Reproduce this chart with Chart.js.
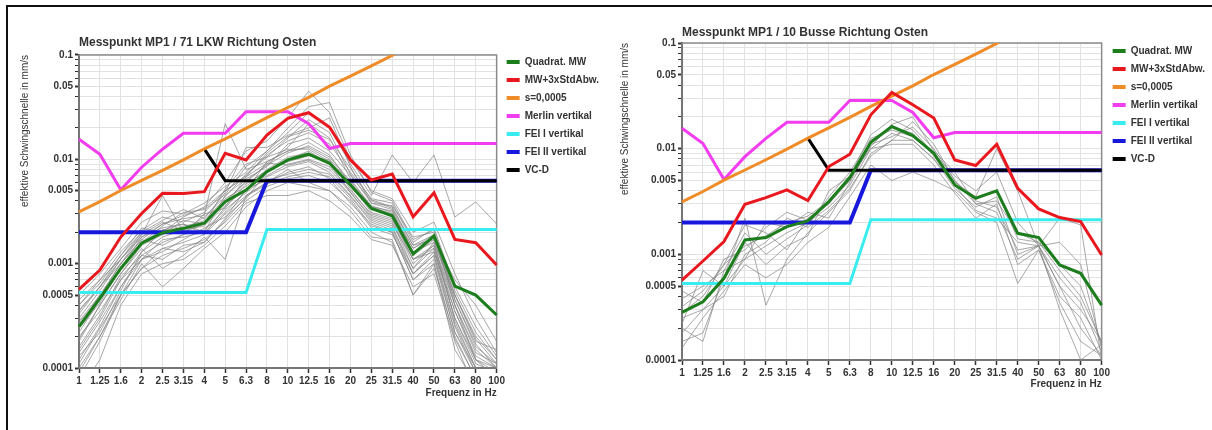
<!DOCTYPE html>
<html>
<head>
<meta charset="utf-8">
<script src="https://cdn.jsdelivr.net/npm/chart.js@4.4.1/dist/chart.umd.min.js"></script>
<style>
  html, body { margin: 0; padding: 0; background: #fff; overflow: hidden; }
  body { width: 1212px; height: 430px; position: relative; }
  #frame { position: absolute; left: 6px; top: 5px; width: 1230px; height: 450px;
           border-top: 2px solid #111; border-left: 2px solid #111; }
  #chartLkw { position: absolute; left: 0; top: 0; }
  #chartBus { position: absolute; left: 606px; top: 0; }
</style>
</head>
<body>
<div id="frame"></div>
<canvas id="chartLkw" width="607" height="400"></canvas>
<canvas id="chartBus" width="606" height="392"></canvas>

<script>
// Terzband-Frequenzen (x-Achse)
const freqLabels = ["1", "1.25", "1.6", "2", "2.5", "3.15", "4", "5", "6.3", "8", "10", "12.5",
                    "16", "20", "25", "31.5", "40", "50", "63", "80", "100"];

// beschriftete Werte der y-Achse und Hilfslinien
const yTickLabels = [0.0001, 0.0005, 0.001, 0.005, 0.01, 0.05, 0.1];
const yGridValues = [0.0001, 0.0002, 0.0003, 0.0004, 0.0005, 0.0006, 0.0007, 0.0008, 0.0009,
                     0.001, 0.002, 0.003, 0.004, 0.005, 0.006, 0.007, 0.008, 0.009,
                     0.01, 0.02, 0.03, 0.04, 0.05, 0.06, 0.07, 0.08, 0.09, 0.1];

// Kriterien (gleich in beiden Diagrammen)
const s0005 = [0.00314, 0.00393, 0.00503, 0.00628, 0.00785, 0.0099, 0.0126, 0.0157, 0.0198, 0.0251, 0.0314,
               0.0393, 0.0503, 0.0628, 0.0785, 0.099, 0.126, 0.157, 0.198, 0.251, 0.314];
const merlinVertikal = [0.0156, 0.0112, 0.0051, 0.0084, 0.0125, 0.0178, 0.0178, 0.0178, 0.0286, 0.0286, 0.0286,
                        0.022, 0.0127, 0.0142, 0.0142, 0.0142, 0.0142, 0.0142, 0.0142, 0.0142, 0.0142];
const feiIVertikal = [0.00053, 0.00053, 0.00053, 0.00053, 0.00053, 0.00053, 0.00053, 0.00053, 0.00053,
                      0.00213, 0.00213, 0.00213, 0.00213, 0.00213, 0.00213, 0.00213, 0.00213, 0.00213, 0.00213, 0.00213, 0.00213];
const feiIIVertikal = [0.002, 0.002, 0.002, 0.002, 0.002, 0.002, 0.002, 0.002, 0.002,
                       0.00625, 0.00625, 0.00625, 0.00625, 0.00625, 0.00625, 0.00625, 0.00625, 0.00625, 0.00625, 0.00625, 0.00625];
const vcD = [null, null, null, null, null, null, 0.0126, 0.00625, 0.00625, 0.00625, 0.00625,
             0.00625, 0.00625, 0.00625, 0.00625, 0.00625, 0.00625, 0.00625, 0.00625, 0.00625, 0.00625];

// 71 LKW
const lkwQuadMW = [0.000249, 0.000466, 0.0009, 0.00157, 0.00198, 0.00218, 0.00244, 0.00393, 0.00508, 0.00762, 0.00987,
                   0.0112, 0.00916, 0.00568, 0.00339, 0.00288, 0.00124, 0.00184, 0.00061, 0.0005, 0.000322];
const lkwMW3Std = [0.000568, 0.00087, 0.0018, 0.00303, 0.00472, 0.0047, 0.0049, 0.0114, 0.00987, 0.0171, 0.0247,
                   0.028, 0.0203, 0.00987, 0.00634, 0.00724, 0.00282, 0.00479, 0.00171, 0.00159, 0.00097];
const lkwEinzel = [
  [0.00022, 0.00045, 0.0009, 0.0016, 0.0021, 0.0022, 0.0026, 0.0042, 0.0055, 0.008, 0.0105, 0.0115, 0.009, 0.0055, 0.0033, 0.0029, 0.0012, 0.0018, 0.00045, 0.00016, 0.00011],
  [0.00012, 0.00025, 0.0006, 0.0012, 0.0016, 0.0019, 0.0021, 0.0033, 0.0048, 0.0068, 0.0085, 0.0095, 0.0075, 0.0045, 0.0026, 0.0022, 0.0009, 0.0014, 0.0003, 0.00012, 0.00009],
  [0.0004, 0.0007, 0.0013, 0.0021, 0.0028, 0.0025, 0.0031, 0.005, 0.007, 0.011, 0.015, 0.018, 0.014, 0.0075, 0.0042, 0.0038, 0.0016, 0.0022, 0.0006, 0.00025, 0.00013],
  [0.00008, 0.00018, 0.0005, 0.0009, 0.0012, 0.0014, 0.0017, 0.0025, 0.004, 0.0055, 0.0065, 0.007, 0.006, 0.004, 0.0022, 0.0019, 0.0008, 0.0012, 0.00025, 0.00009, 0.00008],
  [0.0003, 0.00055, 0.0011, 0.0019, 0.0045, 0.002, 0.0024, 0.004, 0.006, 0.009, 0.013, 0.022, 0.016, 0.0065, 0.0035, 0.0032, 0.0013, 0.0016, 0.0005, 0.0002, 0.00012],
  [0.00018, 0.0004, 0.0008, 0.0014, 0.0009, 0.0012, 0.0018, 0.0011, 0.0045, 0.006, 0.008, 0.006, 0.005, 0.0035, 0.002, 0.0016, 0.0005, 0.001, 0.00015, 0.00007, 0.00006],
  [0.00025, 0.0005, 0.001, 0.0017, 0.0024, 0.0027, 0.0029, 0.022, 0.008, 0.0095, 0.012, 0.013, 0.01, 0.006, 0.0035, 0.003, 0.0014, 0.0019, 0.0005, 0.00018, 0.00015],
  [0.00035, 0.0006, 0.0012, 0.0022, 0.002, 0.0028, 0.0035, 0.006, 0.012, 0.015, 0.025, 0.045, 0.028, 0.01, 0.005, 0.0042, 0.002, 0.0025, 0.0008, 0.0003, 0.00014],
  [0.00015, 0.0003, 0.0007, 0.0011, 0.0014, 0.0016, 0.0019, 0.003, 0.0045, 0.006, 0.0075, 0.0085, 0.0065, 0.0038, 0.0024, 0.002, 0.0007, 0.0011, 0.00022, 0.0001, 0.00007],
  [0.0005, 0.0008, 0.0014, 0.0025, 0.0032, 0.003, 0.0038, 0.0055, 0.0075, 0.012, 0.018, 0.028, 0.02, 0.009, 0.0045, 0.011, 0.006, 0.011, 0.0028, 0.0039, 0.0024],
  [0.0002, 0.00035, 0.0007, 0.0013, 0.0018, 0.0021, 0.0023, 0.0036, 0.0052, 0.007, 0.009, 0.01, 0.0085, 0.005, 0.003, 0.0026, 0.001, 0.0015, 0.0004, 0.00015, 0.0001],
  [0.0001, 0.0002, 0.00045, 0.001, 0.0006, 0.0009, 0.0014, 0.002, 0.0035, 0.005, 0.006, 0.0055, 0.005, 0.0032, 0.0018, 0.0017, 0.0005, 0.0009, 0.0002, 0.00008, 0.00009],
  [0.00028, 0.0005, 0.0009, 0.0018, 0.0022, 0.0024, 0.002, 0.0045, 0.0065, 0.0085, 0.014, 0.016, 0.012, 0.007, 0.004, 0.0034, 0.0015, 0.0017, 0.0007, 0.0004, 0.00018],
  [0.00014, 0.00028, 0.0006, 0.0011, 0.0013, 0.0017, 0.0022, 0.0028, 0.0042, 0.0075, 0.01, 0.012, 0.009, 0.0048, 0.0028, 0.0024, 0.0011, 0.0013, 0.00035, 0.00012, 0.0001],
  [0.00045, 0.0007, 0.0011, 0.002, 0.0026, 0.0033, 0.0027, 0.0048, 0.013, 0.013, 0.017, 0.02, 0.025, 0.0085, 0.0038, 0.0036, 0.0018, 0.002, 0.0004, 0.00014, 0.00011],
  [0.00006, 0.00012, 0.0004, 0.0008, 0.001, 0.0011, 0.0015, 0.0023, 0.0038, 0.0045, 0.0045, 0.005, 0.004, 0.0028, 0.0017, 0.0015, 0.0006, 0.0008, 0.00018, 0.00006, 0.00005],
  [0.00019, 0.0004, 0.0008, 0.0015, 0.0019, 0.0023, 0.0025, 0.0039, 0.0062, 0.0088, 0.0115, 0.0135, 0.0105, 0.0062, 0.0036, 0.0031, 0.0012, 0.0017, 0.0004, 0.00012, 0.00008],
  [0.00033, 0.0006, 0.001, 0.0017, 0.0015, 0.0019, 0.003, 0.0034, 0.0058, 0.0078, 0.0095, 0.0108, 0.0098, 0.0052, 0.0029, 0.0025, 0.0009, 0.0016, 0.00028, 0.0001, 0.00007],
  [0.00009, 0.0002, 0.0005, 0.0011, 0.0017, 0.0018, 0.002, 0.0031, 0.005, 0.0095, 0.012, 0.0145, 0.011, 0.0058, 0.0031, 0.0027, 0.0011, 0.0014, 0.0003, 0.00011, 0.00009],
  [0.00024, 0.00042, 0.0009, 0.0016, 0.0023, 0.0031, 0.0033, 0.0046, 0.0085, 0.012, 0.02, 0.032, 0.035, 0.011, 0.0048, 0.004, 0.0017, 0.0021, 0.00055, 0.00022, 0.00012],
  [0.00016, 0.00032, 0.00075, 0.0012, 0.0011, 0.0015, 0.0016, 0.0027, 0.0052, 0.0063, 0.0072, 0.008, 0.0072, 0.0044, 0.0025, 0.0021, 0.0008, 0.0012, 0.00022, 0.00009, 0.00008],
  [0.0004, 0.00065, 0.0012, 0.002, 0.0019, 0.0026, 0.0024, 0.0052, 0.009, 0.0105, 0.0125, 0.0125, 0.0095, 0.0058, 0.0034, 0.0028, 0.0011, 0.0015, 0.00035, 0.00013, 0.0001],
  [0.00013, 0.00022, 0.00055, 0.0013, 0.0021, 0.0024, 0.0019, 0.0035, 0.0068, 0.0092, 0.0088, 0.0098, 0.008, 0.0048, 0.0027, 0.0023, 0.0008, 0.0013, 0.00026, 0.0001, 0.00009],
  [0.00027, 0.00048, 0.001, 0.0019, 0.0025, 0.0021, 0.0028, 0.0044, 0.0072, 0.0105, 0.016, 0.024, 0.018, 0.0072, 0.0038, 0.0033, 0.0014, 0.0018, 0.00045, 0.00017, 0.0001],
  [0.00011, 0.00024, 0.0005, 0.0009, 0.0014, 0.0013, 0.0016, 0.0026, 0.0044, 0.0058, 0.0068, 0.0075, 0.0068, 0.0042, 0.0023, 0.002, 0.0007, 0.001, 0.00019, 0.00008, 0.00006],
  [0.00036, 0.0006, 0.0011, 0.0018, 0.0024, 0.0029, 0.0034, 0.005, 0.0068, 0.0115, 0.0165, 0.019, 0.0155, 0.0082, 0.0041, 0.0035, 0.0015, 0.0019, 0.0005, 0.00019, 0.00011]
];

// 10 Busse
const busQuadMW = [0.000282, 0.000355, 0.000593, 0.00137, 0.00144, 0.00183, 0.00207, 0.00316, 0.00533, 0.0115, 0.0162,
                   0.0133, 0.00906, 0.00454, 0.0034, 0.00398, 0.00158, 0.00144, 0.000794, 0.000661, 0.000331];
const busMW3Std = [0.000571, 0.000865, 0.00132, 0.00298, 0.00344, 0.00407, 0.00323, 0.00678, 0.00887, 0.0209, 0.034,
                   0.026, 0.0195, 0.00783, 0.00692, 0.011, 0.00422, 0.00269, 0.00223, 0.00204, 0.000986];
const busEinzel = [
  [0.00032, 0.00045, 0.0008, 0.0012, 0.0015, 0.002, 0.0023, 0.0032, 0.005, 0.012, 0.016, 0.014, 0.0085, 0.0045, 0.0033, 0.004, 0.0014, 0.0013, 0.0007, 0.0004, 0.00015],
  [0.00022, 0.0007, 0.0005, 0.0009, 0.0012, 0.0016, 0.002, 0.0028, 0.0045, 0.01, 0.014, 0.012, 0.008, 0.0042, 0.0028, 0.0035, 0.001, 0.0012, 0.0006, 0.00035, 0.00012],
  [0.00015, 0.00018, 0.0006, 0.0022, 0.00033, 0.0009, 0.0016, 0.0025, 0.004, 0.009, 0.012, 0.018, 0.011, 0.005, 0.003, 0.0025, 0.0009, 0.0012, 0.0005, 0.0002, 0.00011],
  [0.00045, 0.00035, 0.0009, 0.0011, 0.0018, 0.0025, 0.0021, 0.003, 0.0055, 0.0135, 0.019, 0.015, 0.009, 0.0048, 0.0035, 0.01, 0.004, 0.0012, 0.0013, 0.0008, 0.00013],
  [0.00013, 0.00025, 0.00045, 0.0008, 0.0006, 0.0008, 0.0013, 0.0018, 0.0035, 0.007, 0.005, 0.006, 0.005, 0.004, 0.0025, 0.002, 0.00053, 0.0011, 0.0004, 0.00025, 0.0001],
  [0.0002, 0.00015, 0.0007, 0.0009, 0.002, 0.0018, 0.0025, 0.0022, 0.0048, 0.011, 0.013, 0.016, 0.01, 0.005, 0.0032, 0.0028, 0.0011, 0.0012, 0.0003, 0.0001, 0.00014],
  [0.00038, 0.0005, 0.0007, 0.0016, 0.001, 0.0014, 0.0019, 0.0035, 0.006, 0.0125, 0.015, 0.013, 0.009, 0.0055, 0.004, 0.006, 0.002, 0.0012, 0.0022, 0.0019, 0.0001],
  [0.00025, 0.0003, 0.0005, 0.0013, 0.0008, 0.0012, 0.0015, 0.004, 0.0055, 0.01, 0.011, 0.011, 0.007, 0.0038, 0.0022, 0.003, 0.0008, 0.0011, 0.00035, 0.00015, 0.00011],
  [0.00018, 0.0003, 0.0004, 0.001, 0.0013, 0.0022, 0.0018, 0.0026, 0.0042, 0.0085, 0.012, 0.012, 0.008, 0.0045, 0.0026, 0.0022, 0.0013, 0.0012, 0.0005, 0.0003, 0.00015],
  [0.00028, 0.0004, 0.0008, 0.0019, 0.0016, 0.0011, 0.0022, 0.003, 0.005, 0.0105, 0.017, 0.02, 0.0095, 0.006, 0.003, 0.0032, 0.0016, 0.0013, 0.0008, 0.0005, 0.00014]
];

const FONT = "'Liberation Sans', Arial, sans-serif";
const TEXT = "#333";
const GRID = "#e2e2e2";

// Rahmen um die Zeichenfläche
const plotFrame = {
  id: "plotFrame",
  beforeDatasetsDraw(chart) {
    const { ctx, chartArea: a } = chart;
    ctx.save();
    ctx.strokeStyle = "#8c8c8c";
    ctx.lineWidth = 1.5;
    ctx.strokeRect(a.left, a.top, a.right - a.left, a.bottom - a.top);
    ctx.restore();
  }
};

// Legende etwas verschieben
const legendShift = {
  id: "legendShift",
  afterLayout(chart, args, opts) {
    const lg = chart.legend;
    if (!lg) return;
    const w = lg.width, h = lg.height;
    lg.left = chart.chartArea.right + opts.dx;
    lg.right = lg.left + w;
    lg.top = chart.chartArea.top + opts.dy;
    lg.bottom = lg.top + h;
  }
};

function mainSet(label, data, color, width, order) {
  return { label, data, borderColor: color, backgroundColor: color, borderWidth: width,
           pointRadius: 0, tension: 0, order: order };
}

function graySets(rows) {
  return rows.map((r, i) => ({
    label: "Messung " + (i + 1), data: r, isGray: true,
    borderColor: "rgba(135,135,135,0.72)", borderWidth: 1, pointRadius: 0, tension: 0, order: 2
  }));
}

function makeChart(id, title, quadMW, mw3Std, einzel, L) {
  const datasets = [
    mainSet("Quadrat. MW", quadMW, "#1b7d1b", 3, 0),
    mainSet("MW+3xStdAbw.", mw3Std, "#e8181e", 3, 0),
    mainSet("s=0,0005", s0005, "#f08c28", 3, 0),
    mainSet("Merlin vertikal", merlinVertikal, "#f23cf0", 3, 0),
    mainSet("FEI I vertikal", feiIVertikal, "#38ecef", 3, 0),
    mainSet("FEI II vertikal", feiIIVertikal, "#1818dc", 4, 0.5),
    mainSet("VC-D", vcD, "#000000", 3, 0)
  ].concat(graySets(einzel));

  return new Chart(document.getElementById(id), {
    type: "line",
    data: { labels: freqLabels, datasets },
    plugins: [plotFrame, legendShift],
    options: {
      responsive: false,
      animation: false,
      events: [],
      layout: { padding: 0 },
      plugins: {
        tooltip: { enabled: false },
        legendShift: { dx: L.legendDx, dy: L.legendDy },
        title: {
          display: true, text: title, align: "start", fullSize: false, color: TEXT,
          font: { family: FONT, size: 12, weight: "bold" },
          padding: { top: L.titleTop, bottom: L.titleBottom }
        },
        legend: {
          position: "right", align: "start", fullSize: false,
          labels: {
            color: TEXT, font: { family: FONT, size: 10, weight: "bold" },
            boxWidth: 13, boxHeight: 4, padding: 8,
            filter: (item, data) => !data.datasets[item.datasetIndex].isGray,
            sort: (a, b) => a.datasetIndex - b.datasetIndex,
            generateLabels(chart) {
              const items = Chart.defaults.plugins.legend.labels.generateLabels(chart);
              return items.map(it => ({ ...it, lineWidth: 0, fillStyle: it.strokeStyle }));
            }
          }
        }
      },
      scales: {
        x: {
          type: "category", offset: false,
          grid: { color: GRID, offset: false, tickLength: 5, tickColor: TEXT, tickWidth: 1.5 },
          border: { color: TEXT, width: 2 },
          ticks: { color: TEXT, font: { family: FONT, size: 10, weight: "bold" }, padding: 2,
                   maxRotation: 0, autoSkip: false },
          title: { display: true, text: "Frequenz in Hz", align: "end", color: TEXT,
                   font: { family: FONT, size: 10, weight: "bold" },
                   padding: { top: 0, bottom: L.xTitleBottom } },
          afterFit: s => { s.height = L.xHeight; }
        },
        y: {
          type: "logarithmic", min: 0.0001, max: 0.1,
          afterBuildTicks: s => { s.ticks = yGridValues.map(v => ({ value: v })); },
          grid: { color: GRID, tickLength: 4, tickColor: TEXT,
                  tickWidth: c => (c.tick && yTickLabels.includes(c.tick.value)) ? 2 : 1 },
          border: { color: TEXT, width: 2 },
          ticks: { autoSkip: false, color: TEXT, font: { family: FONT, size: 10, weight: "bold" }, padding: 2,
                   callback: v => yTickLabels.includes(v) ? String(v) : "" },
          title: { display: true, text: "effektive Schwingschnelle in mm/s", align: "end", color: TEXT,
                   font: { family: FONT, size: 10 },
                   padding: { top: L.yTitleTop, bottom: 0 } },
          afterFit: s => { s.width = L.yWidth; }
        }
      }
    }
  });
}

makeChart("chartLkw", "Messpunkt MP1 / 71 LKW Richtung Osten", lkwQuadMW, lkwMW3Std, lkwEinzel,
  { titleTop: 35.3, titleBottom: 5.3, yWidth: 79, yTitleTop: 19, xHeight: 32, xTitleBottom: 1,
    legendDx: 2, legendDy: -6 });

makeChart("chartBus", "Messpunkt MP1 / 10 Busse Richtung Osten", busQuadMW, busMW3Std, busEinzel,
  { titleTop: 25.1, titleBottom: 3.5, yWidth: 76, yTitleTop: 13, xHeight: 32, xTitleBottom: 2,
    legendDx: 3, legendDy: -5 });
</script>
</body>
</html>
